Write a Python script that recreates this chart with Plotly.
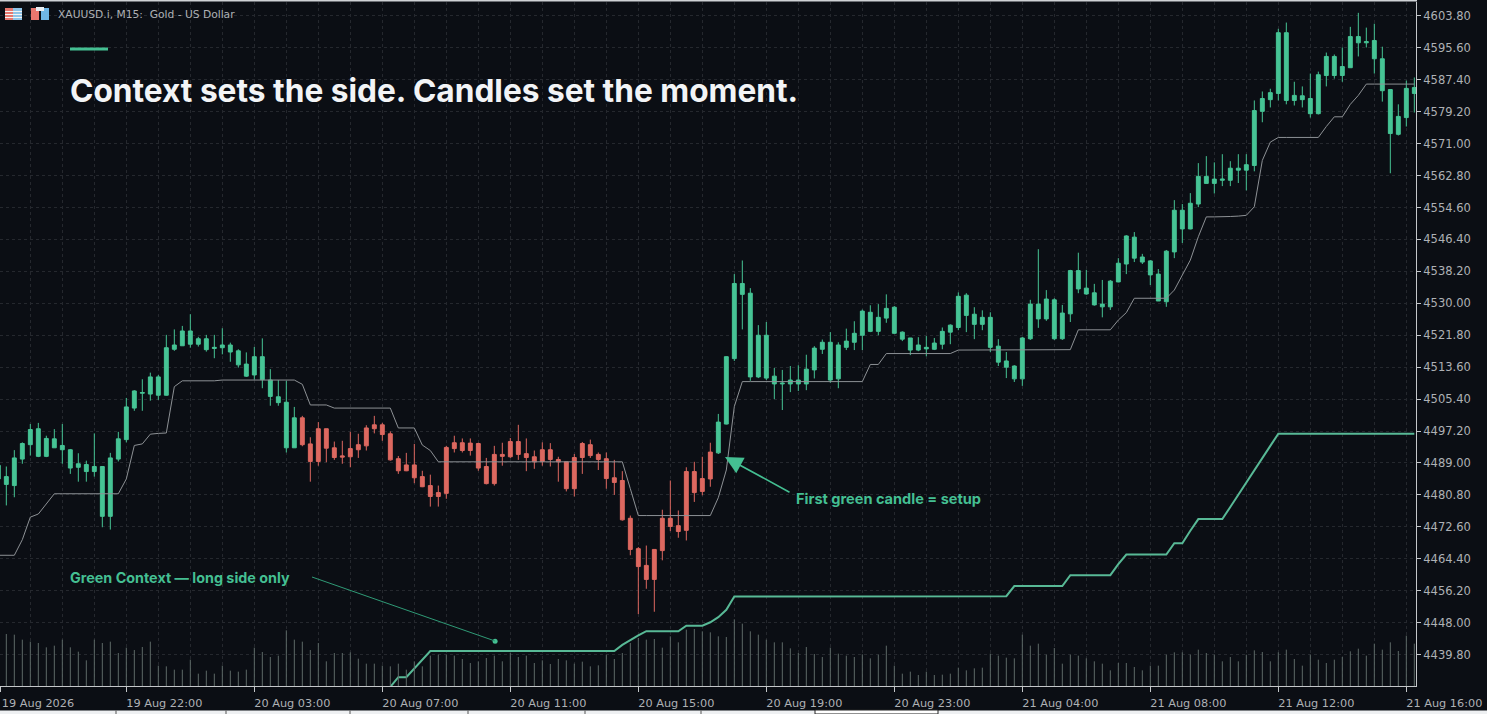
import plotly.graph_objects as go

# ---------------- data ----------------
first_bar = -1
high = [4488.4,
 4488.1,4492.3,4494.3,4499.0,4499.3,4496.0,4497.7,4499.0,4492.6,4491.5,
 4489.6,4496.6,4488.1,4491.6,4497.0,4505.7,4507.7,4510.5,4512.2,4511.6,
 4521.9,4523.3,4524.2,4527.2,4521.4,4521.9,4521.9,4523.6,4519.9,4518.2,
 4517.4,4518.8,4521.0,4513.1,4510.3,4510.1,4503.4,4501.1,4495.6,4499.5,
 4497.8,4494.5,4494.7,4497.0,4496.5,4498.7,4501.1,4499.3,4497.1,4490.8,
 4491.6,4493.9,4487.0,4486.0,4483.2,4493.4,4496.0,4495.3,4495.3,4494.2,
 4490.3,4493.4,4494.2,4495.4,4498.8,4495.3,4492.2,4494.3,4494.1,4490.6,
 4489.3,4491.3,4494.4,4495.0,4491.7,4491.7,4489.8,4486.9,4475.5,4467.4,
 4467.8,4466.8,4477.0,4484.5,4476.8,4487.9,4489.3,4490.6,4494.2,4501.6,
 4516.4,4537.5,4541.0,4533.9,4524.4,4525.2,4513.4,4512.9,4513.9,4514.1,
 4516.8,4519.0,4520.7,4522.6,4520.0,4523.5,4525.4,4528.4,4529.5,4529.8,
 4532.3,4529.3,4522.8,4521.1,4521.3,4521.6,4521.1,4523.8,4524.6,4532.8,
 4532.6,4529.0,4528.2,4527.7,4520.8,4517.5,4514.1,4521.4,4530.9,4543.9,
 4533.4,4531.3,4529.6,4538.6,4543.0,4538.6,4535.0,4536.0,4536.0,4541.6,
 4547.5,4548.3,4542.7,4541.1,4538.8,4543.7,4556.5,4555.5,4558.3,4566.0,
 4567.8,4566.2,4568.3,4566.5,4568.3,4568.3,4582.1,4584.4,4585.1,4600.5,
 4602.1,4586.9,4585.7,4589.0,4589.5,4594.4,4593.9,4595.7,4601.0,4604.6,
 4600.8,4601.8,4595.9,4584.9,4581.1,4587.2,4588.0]
body_top = [4488.4,
 4485.5,4490.3,4494.0,4497.6,4497.8,4495.3,4495.2,4493.5,4492.4,4488.8,
 4488.6,4488.1,4488.1,4490.3,4495.2,4503.4,4507.5,4507.1,4511.1,4511.1,
 4518.6,4519.3,4522.9,4522.9,4520.9,4520.9,4518.7,4519.3,4519.3,4517.8,
 4514.4,4516.3,4516.3,4510.3,4506.0,4504.6,4500.6,4500.6,4493.9,4497.8,
 4497.8,4492.9,4490.8,4492.7,4493.7,4498.0,4498.8,4498.8,4496.5,4490.1,
 4488.5,4488.5,4485.5,4483.2,4481.4,4493.0,4494.2,4494.2,4494.1,4494.0,
 4488.1,4491.2,4491.2,4494.5,4494.5,4491.4,4490.6,4492.4,4492.4,4489.9,
 4489.3,4490.4,4494.0,4493.7,4491.2,4490.1,4485.2,4484.5,4474.8,4467.0,
 4462.7,4466.8,4474.8,4474.8,4472.9,4486.8,4486.8,4485.0,4491.8,4499.5,
 4516.3,4535.1,4535.1,4532.6,4521.8,4521.8,4511.3,4509.5,4510.3,4510.3,
 4513.1,4518.5,4520.0,4520.0,4519.3,4520.3,4522.3,4528.0,4527.7,4526.4,
 4528.7,4529.0,4522.6,4521.1,4519.3,4518.7,4519.8,4522.8,4524.4,4531.8,
 4532.1,4527.2,4526.4,4526.4,4519.0,4515.2,4513.9,4521.1,4529.8,4529.8,
 4531.1,4530.9,4527.5,4538.4,4538.4,4533.9,4532.7,4529.8,4535.7,4540.3,
 4547.3,4547.0,4541.9,4540.9,4537.5,4543.4,4553.9,4553.9,4555.7,4562.6,
 4562.6,4561.9,4561.9,4564.7,4564.7,4565.6,4579.5,4582.6,4584.1,4599.5,
 4599.5,4583.4,4583.3,4582.6,4588.7,4593.4,4593.4,4590.8,4598.5,4598.5,
 4597.2,4597.5,4592.8,4584.9,4578.0,4585.2,4585.4]
body_bottom = [4484.9,
 4483.5,4483.2,4490.0,4493.7,4490.7,4490.7,4492.9,4492.4,4487.7,4487.9,
 4486.8,4486.8,4475.3,4475.3,4490.0,4495.0,4503.1,4506.9,4506.7,4506.4,
 4506.4,4518.2,4519.1,4519.5,4519.5,4518.1,4518.4,4518.6,4517.5,4514.2,
 4511.3,4511.6,4510.4,4506.1,4504.5,4492.9,4492.9,4493.7,4489.4,4489.4,
 4492.8,4490.4,4490.5,4490.6,4492.4,4493.4,4497.8,4496.3,4489.8,4487.0,
 4487.0,4485.2,4482.9,4480.4,4480.4,4481.2,4492.7,4492.2,4492.2,4487.7,
 4483.7,4483.7,4490.7,4490.6,4491.2,4490.4,4489.3,4489.4,4489.9,4489.3,
 4482.4,4482.4,4490.4,4490.9,4489.9,4485.0,4484.0,4474.4,4466.8,4462.4,
 4459.1,4459.1,4466.5,4472.7,4471.4,4471.7,4481.4,4481.7,4484.9,4491.6,
 4499.0,4515.8,4532.3,4511.1,4511.1,4510.8,4509.3,4509.3,4509.3,4509.3,
 4509.3,4512.9,4518.2,4510.3,4510.6,4518.7,4520.0,4521.8,4522.8,4522.8,
 4526.2,4522.3,4520.8,4518.0,4518.0,4518.3,4518.2,4519.5,4522.6,4523.8,
 4526.9,4524.6,4524.6,4518.7,4514.9,4513.6,4510.6,4510.6,4520.9,4526.0,
 4526.0,4520.9,4520.9,4527.3,4533.7,4532.4,4529.6,4529.1,4529.1,4535.5,
 4540.1,4541.6,4540.6,4537.3,4530.6,4530.4,4543.2,4549.1,4549.1,4555.5,
 4560.8,4560.8,4561.6,4561.6,4564.2,4564.2,4565.4,4579.3,4582.3,4583.9,
 4582.1,4582.1,4582.3,4578.7,4578.7,4588.5,4588.5,4588.5,4590.5,4596.9,
 4596.9,4592.8,4584.6,4573.6,4573.4,4577.7,4583.9]
low = [4484.5,
 4478.1,4480.2,4488.8,4490.9,4490.5,4490.5,4492.9,4488.8,4486.2,4484.2,
 4484.2,4485.5,4472.5,4471.9,4489.4,4494.3,4502.4,4502.4,4505.0,4505.2,
 4506.3,4517.8,4519.1,4518.6,4518.9,4517.6,4515.9,4516.9,4515.0,4513.5,
 4511.1,4510.4,4508.2,4503.7,4503.7,4491.7,4492.9,4493.3,4484.2,4488.3,
 4489.2,4489.8,4488.8,4487.9,4490.3,4492.2,4496.6,4494.7,4489.6,4486.2,
 4486.9,4483.8,4482.8,4477.8,4477.8,4479.8,4491.7,4491.7,4490.9,4487.0,
 4483.5,4483.2,4488.3,4490.3,4489.8,4486.9,4487.5,4488.3,4488.1,4484.2,
 4481.7,4480.4,4486.2,4490.3,4487.2,4482.4,4480.8,4474.2,4465.3,4450.2,
 4456.7,4450.8,4464.0,4471.5,4469.8,4469.1,4479.0,4480.7,4482.9,4491.3,
 4498.9,4515.2,4523.3,4510.1,4510.8,4510.3,4505.4,4502.6,4507.2,4507.5,
 4507.7,4510.7,4517.0,4509.6,4508.2,4518.0,4518.0,4518.0,4522.6,4521.8,
 4525.0,4522.2,4520.3,4516.7,4517.7,4516.4,4518.0,4518.2,4519.5,4523.1,
 4522.6,4520.8,4523.1,4517.5,4513.9,4510.8,4509.8,4508.8,4520.6,4523.7,
 4525.5,4520.6,4520.6,4525.2,4532.6,4532.2,4529.4,4526.4,4528.3,4535.4,
 4537.5,4540.6,4540.1,4534.7,4530.6,4529.1,4541.6,4545.5,4549.0,4554.7,
 4560.8,4558.2,4560.1,4560.1,4560.9,4559.0,4563.9,4576.5,4580.3,4582.1,
 4581.1,4580.8,4580.3,4577.7,4578.5,4585.7,4587.7,4586.9,4590.5,4593.4,
 4595.7,4589.0,4581.8,4563.4,4573.1,4575.4,4579.0]
# candles drawn in the red "context" colour run from this bar to this bar
red_start, red_end = 37, 88

context_line = [4465.3,
 4465.3,4465.3,4469.3,4475.1,4475.9,4478.5,4481.1,4481.1,4481.1,4481.1,
 4481.1,4481.1,4481.1,4481.1,4481.1,4484.9,4493.5,4493.9,4496.4,4496.6,
 4496.7,4508.6,4510.1,4510.1,4510.1,4510.1,4510.1,4510.3,4510.3,4510.3,
 4510.3,4510.3,4510.3,4510.3,4510.3,4510.3,4510.3,4509.2,4503.9,4503.9,
 4503.9,4503.1,4503.1,4503.1,4503.1,4503.1,4503.1,4503.1,4503.1,4498.0,
 4498.0,4498.0,4493.6,4492.2,4489.3,4489.3,4489.3,4489.3,4489.3,4489.3,
 4489.3,4489.3,4489.3,4489.3,4489.3,4489.3,4489.3,4489.3,4489.3,4489.3,
 4489.3,4489.3,4489.3,4489.3,4489.3,4489.3,4489.3,4489.3,4482.4,4475.5,
 4475.5,4475.5,4475.5,4475.5,4475.5,4475.5,4475.5,4475.5,4475.5,4480.1,
 4487.2,4503.5,4509.9,4509.9,4509.9,4509.9,4509.9,4509.9,4509.9,4509.9,
 4509.9,4509.9,4509.9,4509.9,4509.9,4509.9,4509.9,4509.9,4514.3,4514.3,
 4517.1,4517.1,4517.1,4517.1,4517.1,4517.1,4517.1,4517.1,4517.1,4518.0,
 4518.0,4518.0,4518.0,4518.0,4518.0,4518.0,4518.0,4518.0,4518.0,4518.0,
 4518.0,4518.0,4518.0,4518.1,4523.2,4523.2,4523.2,4523.2,4523.2,4525.7,
 4527.6,4531.3,4531.3,4531.3,4531.3,4531.3,4533.4,4537.3,4541.1,4547.1,
 4552.2,4552.2,4552.2,4552.3,4552.4,4552.6,4554.8,4566.7,4571.4,4572.6,
 4572.6,4572.6,4572.6,4572.6,4572.6,4575.4,4577.9,4577.9,4581.1,4583.4,
 4586.3,4586.3,4586.3,4586.3,4586.3,4586.3,4586.3]

long_line_start = 47
long_line = [4429.0,4431.6,4434.0,4434.0,4436.2,4438.4,4440.7]
long_line += [4440.7]*23
long_line += [4442.3,4443.6,4444.7,4445.8,4445.8,4445.8,4445.8,4445.8,4447.2,4447.2,4447.2,4448.1,4449.4,4451.3,4454.7]
long_line += [4454.7]*33 + [4454.8]
long_line += [4457.4,4457.4,4457.4,4457.4,4457.4,4457.4,4457.4,4460.2,4460.2,4460.2,4460.2,4460.2,4460.2,4463.0,4465.5,
              4465.5,4465.5,4465.5,4465.5,4465.5,4468.4,4468.4,4471.6,4474.6,4474.6,4474.6,4474.6,
              4477.7,4480.9,4484.0,4487.1,4490.3,4493.4,4496.5]
long_line += [4496.5]*17

volume = [90,
 156,154,139,133,129,116,121,139,116,103,77,139,129,133,99,115,108,117,133,61,
 59,49,49,79,37,46,37,61,46,43,49,115,102,87,91,167,139,133,108,129,74,99,99,101,
 82,67,67,61,59,67,49,74,59,91,94,94,91,81,69,74,84,91,
 74,99,87,91,69,77,66,81,77,67,73,59,62,94,81,99,129,144,139,141,115,149,131,169,
 171,164,161,149,147,200,187,164,154,139,131,131,113,99,117,96,87,115,97,91,87,95,
 83,94,121,61,37,43,33,43,33,34,37,55,47,53,55,97,
 91,85,83,154,121,127,94,114,67,94,91,83,74,67,47,69,69,57,47,61,61,94,101,101,94,
 109,99,94,74,87,74,94,107,102,74,101,109,81,61,94,79,69,79,87,104,112,91,127,109,
 131,105,151,127]

price_ticks = [4439.8,4448.0,4456.2,4464.4,4472.6,4480.8,4489.0,4497.2,4505.4,4513.6,4521.8,
               4530.0,4538.2,4546.4,4554.6,4562.8,4571.0,4579.2,4587.4,4595.6,4603.8]
time_tick_bars = [-0.79,15,31,47,63,79,95,111,127,143,159,175]
time_tick_labels = ["19 Aug 2026","19 Aug 22:00","20 Aug 03:00","20 Aug 07:00","20 Aug 11:00",
                    "20 Aug 15:00","20 Aug 19:00","20 Aug 23:00","21 Aug 04:00","21 Aug 08:00",
                    "21 Aug 12:00","21 Aug 16:00"]
grid_bars = list(range(3, 177, 4))

title_text = "Context sets the side. Candles set the moment."
header_text = "XAUUSD.i, M15:  Gold - US Dollar"
setup_text = "First green candle = setup"
context_text = "Green Context — long side only"

# ---------------- style / layout ----------------
W, H = 1487, 714
PL, PR, PT, PB = 0, 1416, 2, 686
BG = "#0b0e14"
GREEN = "#46c495"
RED = "#dd6860"
GRID = "#25282e"
AXIS = "#c4c7ca"
TXT = "#aeb1b5"
ACC = "#44bf92"
LINE_G = "#58b996"

def xp(px): return (px - PL) / (PR - PL)
def yp(py): return (PB - py) / (PB - PT)

n = len(high)
bars = list(range(first_bar, first_bar + n))
def pick(a, cond): return [v for b, v in zip(bars, a) if cond(b)]
is_red = lambda b: red_start <= b <= red_end
is_green = lambda b: not is_red(b)

vol_x, vol_y = [], []
for b, v in zip(bars, volume):
    vol_x += [b, b, None]
    vol_y += [0, v, None]

fig = go.Figure()
fig.add_trace(go.Scatter(x=vol_x, y=vol_y, yaxis="y2", mode="lines",
                         line=dict(color="#5e6a67", width=1), connectgaps=False,
                         hoverinfo="skip", showlegend=False))
for cond, col in ((is_green, GREEN), (is_red, RED)):
    fig.add_trace(go.Candlestick(
        x=pick(bars, cond), open=pick(body_bottom, cond), high=pick(high, cond),
        low=pick(low, cond), close=pick(body_top, cond),
        increasing=dict(line=dict(color=col, width=1), fillcolor=col),
        decreasing=dict(line=dict(color=col, width=1), fillcolor=col),
        whiskerwidth=0, hoverinfo="skip", showlegend=False))
fig.add_trace(go.Scatter(x=bars, y=context_line, mode="lines",
                         line=dict(color="#8d9195", width=1), hoverinfo="skip", showlegend=False))
fig.add_trace(go.Scatter(x=list(range(long_line_start, long_line_start + len(long_line))),
                         y=long_line, mode="lines", line=dict(color=LINE_G, width=2),
                         hoverinfo="skip", showlegend=False))
fig.add_trace(go.Scatter(x=[61.1], y=[4443.2], mode="markers",
                         marker=dict(color=ACC, size=5), hoverinfo="skip", showlegend=False))

shapes = [
    dict(type="rect", xref="paper", yref="paper", x0=xp(70), x1=xp(108), y0=yp(47.5), y1=yp(50.5),
         fillcolor=ACC, line=dict(width=0)),
    dict(type="line", xref="paper", yref="paper", x0=xp(312), x1=xp(495), y0=yp(577), y1=yp(641),
         line=dict(color="#2f9a76", width=1)),
    dict(type="line", xref="paper", yref="paper", x0=xp(0), x1=xp(1417), y0=yp(0.7), y1=yp(0.7),
         line=dict(color="#cfd2d5", width=1.5)),
    dict(type="rect", xref="paper", yref="paper", x0=xp(0), x1=xp(1487), y0=yp(710.5), y1=yp(714),
         fillcolor="#eef0f2", line=dict(width=0)),
    dict(type="rect", xref="paper", yref="paper", x0=xp(815), x1=xp(938), y0=yp(710), y1=yp(714),
         fillcolor="#ffffff", line=dict(color="#222222", width=1)),
]
for tx in (116, 226, 350, 468, 585, 701):
    shapes.append(dict(type="line", xref="paper", yref="paper", x0=xp(tx), x1=xp(tx), y0=yp(710.5), y1=yp(714),
                       line=dict(color="#555555", width=1)))
# header icons
for x0, x1, c in ((5, 13, "#e8776e"), (13, 22, "#8fc4e8"), (31, 39, "#e8776e"), (41, 49, "#6fb6e6")):
    shapes.append(dict(type="rect", xref="paper", yref="paper", x0=xp(x0), x1=xp(x1), y0=yp(8), y1=yp(20),
                       fillcolor=c, line=dict(width=0)))
for yy in (11.5, 14.5, 17.5):
    shapes.append(dict(type="line", xref="paper", yref="paper", x0=xp(5), x1=xp(22), y0=yp(yy), y1=yp(yy),
                       line=dict(color="#f4f4f4", width=1)))
shapes.append(dict(type="rect", xref="paper", yref="paper", x0=xp(36), x1=xp(44), y0=yp(7), y1=yp(11),
                   fillcolor="#e9eef2", line=dict(width=0)))

TF = "Inter"
annotations = [
    dict(text=f"<b>{title_text}</b>", xref="paper", yref="paper", x=xp(67.5), y=yp(90), xanchor="left",
         yanchor="middle", showarrow=False, font=dict(family=TF, size=31.65, color="#f2f4f6")),
    dict(text=header_text, xref="paper", yref="paper", x=xp(56), y=yp(15), xanchor="left", yanchor="middle",
         showarrow=False, font=dict(family="DejaVu Sans", size=10.7, color=TXT)),
    dict(text=f"<b>{setup_text}</b>", xref="paper", yref="paper", x=xp(793.5), y=yp(498.5), xanchor="left",
         yanchor="middle", showarrow=False, font=dict(family=TF, size=14.55, color=ACC)),
    dict(text=f"<b>{context_text}</b>", xref="paper", yref="paper", x=xp(67.5), y=yp(577), xanchor="left",
         yanchor="middle", showarrow=False, font=dict(family=TF, size=14.35, color=ACC)),
    dict(text="", xref="paper", yref="paper", x=xp(725), y=yp(457), axref="pixel", ayref="pixel",
         ax=66, ay=36, showarrow=True, arrowhead=2, arrowsize=2.2, arrowwidth=1.6, arrowcolor=ACC),
]

grid = dict(showgrid=True, gridcolor=GRID, griddash="3px,3px", gridwidth=1)
fig.update_layout(
    width=W, height=H, autosize=False,
    margin=dict(l=PL, r=W - PR, t=PT, b=H - PB, pad=0),
    paper_bgcolor=BG, plot_bgcolor=BG,
    boxgap=0.3, boxmode="overlay", bargap=0,
    showlegend=False, shapes=shapes, annotations=annotations,
    xaxis=dict(range=[-0.79, 176.21], rangeslider=dict(visible=False), tickmode="array",
               tickvals=time_tick_bars, ticktext=time_tick_labels, ticks="outside", ticklen=5,
               tickcolor=AXIS, ticklabelshift=38, ticklabelstandoff=1,
               tickfont=dict(family="DejaVu Sans", size=11.3, color=TXT),
               showline=True, linecolor=AXIS, linewidth=1, zeroline=False, **grid,
               minor=dict(tickmode="array", tickvals=grid_bars, ticks="", showgrid=True,
                          gridcolor=GRID, griddash="3px,3px", gridwidth=1)),
    yaxis=dict(side="right", range=[4431.73, 4607.38], tickmode="array", tickvals=price_ticks,
               ticktext=[f"{p:.2f}" for p in price_ticks], ticks="outside", ticklen=4,
               tickcolor=AXIS, tickfont=dict(family="DejaVu Sans", size=11.5, color=TXT),
               showline=True, linecolor=AXIS, linewidth=1, zeroline=False, **grid),
    yaxis2=dict(overlaying="y", range=[0, 2052], visible=False, showgrid=False),
)
fig.write_html("out.html", config=dict(displayModeBar=False),
               post_script="document.body.style.margin='0';document.body.style.background='%s';" % BG)
